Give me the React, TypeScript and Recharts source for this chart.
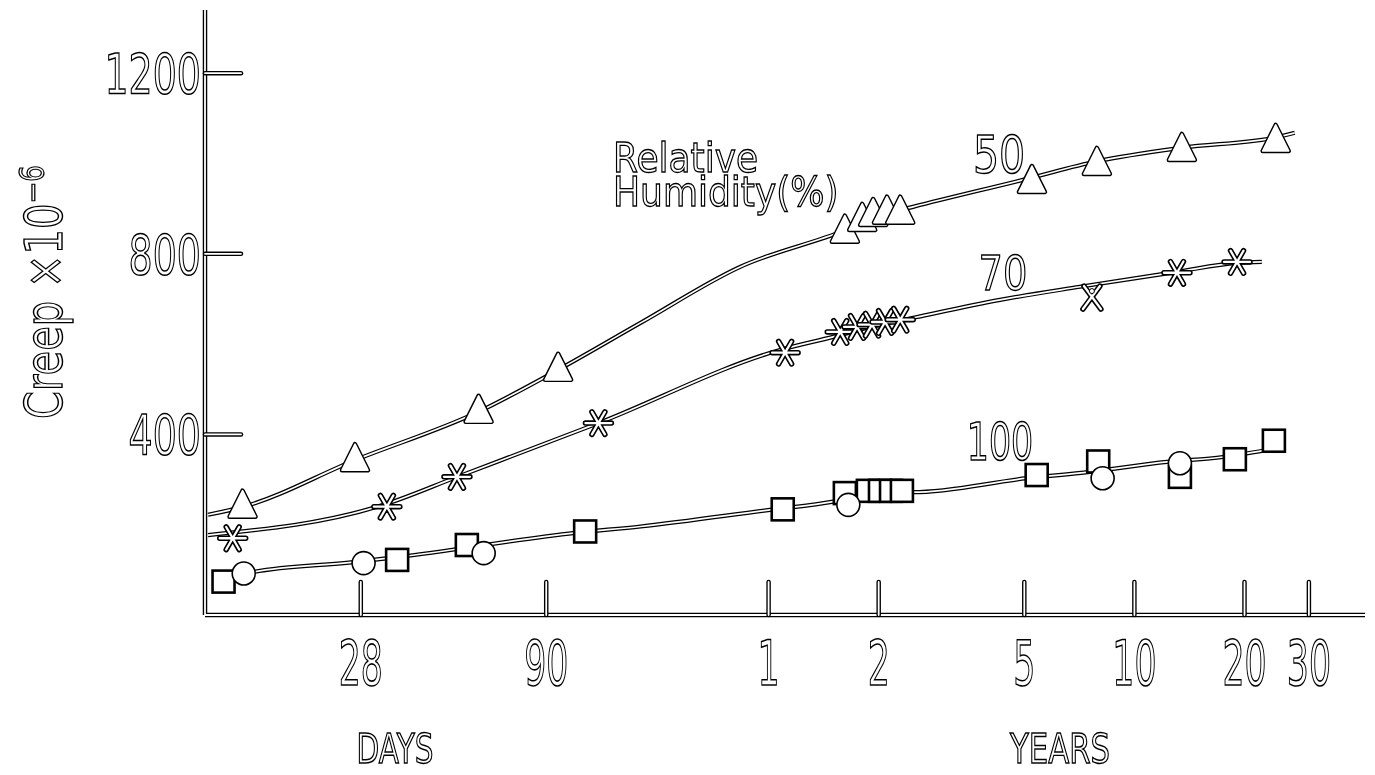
import React from "react";
import {
  ComposedChart,
  Line,
  Scatter,
  XAxis,
  YAxis,
  ReferenceLine,
} from "recharts";

// fitted curves (age in days, creep x 10^-6)
const curve50Days = [10.7, 13.4, 27, 58.7, 97, 163, 305, 590, 736, 906, 1857, 2884, 4925, 8900, 10020];
const curve50Creep = [222, 240, 343, 450, 543, 647, 771, 852, 885, 904, 966, 1005, 1035, 1058, 1068];

const curve70Days = [10.7, 32.3, 51.4, 125, 392, 548, 713, 929, 1567, 2592, 4772, 6962, 8147];
const curve70Creep = [177, 244, 306, 425, 587, 616, 640, 660, 698, 727, 760, 780, 782];

const curve100Days = [12.1, 14.2, 26.7, 35.2, 108, 163, 368, 548, 736, 906, 1857, 2760, 4482, 6373, 8356];
const curve100Creep = [78, 95, 117, 128, 182, 196, 233, 251, 275, 272, 303, 317, 339, 350, 365];

// measured points
const tri50Days = [13.3, 27, 58.8, 97, 590, 658, 705, 769, 836, 1916, 2884, 4925, 8890];
const tri50Creep = [240, 343, 450, 543, 849, 875, 886, 891, 891, 959, 999, 1030, 1050];

const star70Days = [12.5, 33, 51.3, 125, 405, 573, 637, 700, 760, 836, 4775, 6970];
const star70Creep = [170, 240, 306, 425, 581, 627, 638, 643, 649, 654, 758, 782];
const cross70Days = [2795];
const cross70Creep = [702];

const sq100Days = [11.8, 35.2, 54.6, 115, 399, 590, 682, 736, 789, 845, 1974, 2908, 4864, 6875, 8790];
const sq100Creep = [74, 122, 155, 185, 234, 270, 275, 275, 275, 275, 310, 340, 306, 345, 386];
const circ100Days = [13.4, 28.5, 60.7, 603, 2990, 4864];
const circ100Creep = [92, 115, 137, 244, 303, 336];

const xTickDays = [28, 90, 365, 730, 1826, 3652, 7305, 10957];
const xTickLabels = ["28", "90", "1", "2", "5", "10", "20", "30"];
const yTicks = [400, 800, 1200];

const X_MIN = 10.5;
const X_MAX = 15600;

const zip = (days: number[], creep: number[]) =>
  days.map((d, i) => ({ days: d, creep: creep[i] }));

const FONT = "'DejaVu Sans', sans-serif";

function OutlineText({
  x,
  y,
  size,
  sx = 1,
  anchor = "middle",
  rotate = 0,
  children,
}: {
  x: number;
  y: number;
  size: number;
  sx?: number;
  anchor?: "start" | "middle" | "end";
  rotate?: number;
  children: React.ReactNode;
}) {
  const t = `translate(${x},${y})${rotate ? ` rotate(${rotate})` : ""} scale(${sx},1)`;
  return (
    <text
      transform={t}
      fontFamily={FONT}
      fontSize={size}
      textAnchor={anchor}
      fill="#fff"
      stroke="#000"
      strokeWidth={1.3}
      vectorEffect="non-scaling-stroke"
    >
      {children}
    </text>
  );
}

const HollowLine = ({ x1, y1, x2, y2 }: { x1: number; y1: number; x2: number; y2: number }) => (
  <g>
    <line x1={x1} y1={y1} x2={x2} y2={y2} stroke="#000" strokeWidth={4.5} strokeLinecap="round" />
    <line x1={x1} y1={y1} x2={x2} y2={y2} stroke="#fff" strokeWidth={1.8} strokeLinecap="round" />
  </g>
);

const XTick = (props: any) => {
  const { x, y, payload } = props;
  const label = xTickLabels[xTickDays.indexOf(payload.value)];
  return (
    <g>
      <HollowLine x1={x} y1={y} x2={x} y2={y - 33} />
      <OutlineText x={x} y={y + 70} size={62} sx={0.56}>
        {label}
      </OutlineText>
    </g>
  );
};

const YTick = (props: any) => {
  const { x, y, payload } = props;
  return (
    <g>
      <HollowLine x1={x} y1={y} x2={x + 36} y2={y} />
      <OutlineText x={x - 4} y={y + 20} size={55} sx={0.69} anchor="end">
        {payload.value}
      </OutlineText>
    </g>
  );
};

const Triangle = (props: any) => {
  const { cx, cy } = props;
  const d = `M${cx},${cy - 16} L${cx + 13},${cy + 10} L${cx - 13},${cy + 10} Z`;
  return (
    <g>
      <path d={d} fill="#fff" stroke="#000" strokeWidth={4.5} strokeLinejoin="round" />
      <path d={d} fill="#fff" stroke="#fff" strokeWidth={1.6} strokeLinejoin="round" />
    </g>
  );
};

const Asterisk = (props: any) => {
  const { cx, cy } = props;
  const r = 13;
  const a = r * 0.5;
  const b = r * 0.866;
  const d = `M${cx - r},${cy} L${cx + r},${cy} M${cx - a},${cy - b} L${cx + a},${cy + b} M${cx + a},${cy - b} L${cx - a},${cy + b}`;
  return (
    <g>
      <path d={d} fill="none" stroke="#000" strokeWidth={5.5} strokeLinecap="round" />
      <path d={d} fill="none" stroke="#fff" strokeWidth={2.3} strokeLinecap="round" />
    </g>
  );
};

const CrossLoop = (props: any) => {
  const { cx, cy } = props;
  const d = `M${cx - 9},${cy + 11} L${cx + 8},${cy - 12} M${cx + 9},${cy + 11} L${cx - 8},${cy - 12}`;
  return (
    <g>
      <path d={d} fill="none" stroke="#000" strokeWidth={5.5} strokeLinecap="round" />
      <path d={d} fill="none" stroke="#fff" strokeWidth={2.3} strokeLinecap="round" />
      <circle cx={cx} cy={cy - 7} r={2.5} fill="#fff" stroke="#000" strokeWidth={1} />
    </g>
  );
};

const Square = (props: any) => {
  const { cx, cy } = props;
  return <rect x={cx - 11} y={cy - 11} width={22} height={22} fill="#fff" stroke="#000" strokeWidth={2.6} />;
};

const Circle = (props: any) => {
  const { cx, cy } = props;
  return <circle cx={cx} cy={cy} r={11.5} fill="#fff" stroke="#000" strokeWidth={1.6} />;
};

export default function App() {
  const curves = [
    zip(curve50Days, curve50Creep),
    zip(curve70Days, curve70Creep),
    zip(curve100Days, curve100Creep),
  ];

  return (
    <div style={{ position: "relative", width: 1359, height: 767, background: "#fff", filter: "grayscale(1)" }}>
      <ComposedChart width={1359} height={759} margin={{ top: 2, right: 2, bottom: 0, left: 0 }}>
        <XAxis
          type="number"
          dataKey="days"
          scale="log"
          domain={[X_MIN, X_MAX]}
          allowDataOverflow
          ticks={xTickDays}
          interval={0}
          tick={<XTick />}
          tickLine={false}
          axisLine={false}
          tickSize={0}
          tickMargin={0}
          height={152}
        />
        <YAxis
          type="number"
          dataKey="creep"
          domain={[0, 1340]}
          allowDataOverflow
          ticks={yTicks}
          interval={0}
          tick={<YTick />}
          tickLine={false}
          axisLine={false}
          tickSize={0}
          tickMargin={0}
          width={197}
        />
        <ReferenceLine x={X_MIN} stroke="#000" strokeWidth={4.5} ifOverflow="visible" />
        <ReferenceLine y={0} stroke="#000" strokeWidth={4.5} ifOverflow="visible" />
        <ReferenceLine x={X_MIN} stroke="#fff" strokeWidth={1.8} ifOverflow="visible" />
        <ReferenceLine y={0} stroke="#fff" strokeWidth={1.8} ifOverflow="visible" />
        {curves.map((c, i) => (
          <Line
            key={`b${i}`}
            data={c}
            dataKey="creep"
            type="monotone"
            stroke="#000"
            strokeWidth={4.2}
            dot={false}
            activeDot={false}
            isAnimationActive={false}
          />
        ))}
        {curves.map((c, i) => (
          <Line
            key={`w${i}`}
            data={c}
            dataKey="creep"
            type="monotone"
            stroke="#fff"
            strokeWidth={1.7}
            dot={false}
            activeDot={false}
            isAnimationActive={false}
          />
        ))}
        <Scatter data={zip(tri50Days, tri50Creep)} dataKey="creep" shape={<Triangle />} isAnimationActive={false} />
        <Scatter data={zip(star70Days, star70Creep)} dataKey="creep" shape={<Asterisk />} isAnimationActive={false} />
        <Scatter data={zip(cross70Days, cross70Creep)} dataKey="creep" shape={<CrossLoop />} isAnimationActive={false} />
        <Scatter data={zip(sq100Days, sq100Creep)} dataKey="creep" shape={<Square />} isAnimationActive={false} />
        <Scatter data={zip(circ100Days, circ100Creep)} dataKey="creep" shape={<Circle />} isAnimationActive={false} />
      </ComposedChart>
      <svg
        width={1359}
        height={767}
        style={{ position: "absolute", left: 0, top: 0, pointerEvents: "none" }}
      >
        <OutlineText x={605} y={164} size={40} sx={0.9} anchor="start">
          <tspan x={0} y={0}>Relative</tspan>
          <tspan x={0} y={34}>Humidity(%)</tspan>
        </OutlineText>
        <OutlineText x={991} y={165} size={52} sx={0.79}>
          50
        </OutlineText>
        <OutlineText x={995} y={282} size={48} sx={0.8}>
          70
        </OutlineText>
        <OutlineText x={992} y={452} size={52} sx={0.67}>
          100
        </OutlineText>
        <OutlineText x={387} y={755} size={41} sx={0.72}>
          DAYS
        </OutlineText>
        <OutlineText x={1052} y={755} size={41} sx={0.75}>
          YEARS
        </OutlineText>
        <OutlineText x={54} y={284} size={52} sx={0.77} rotate={-90}>
          Creep ×10
          <tspan dy={-18} fontSize={34}>
            −6
          </tspan>
        </OutlineText>
      </svg>
    </div>
  );
}
